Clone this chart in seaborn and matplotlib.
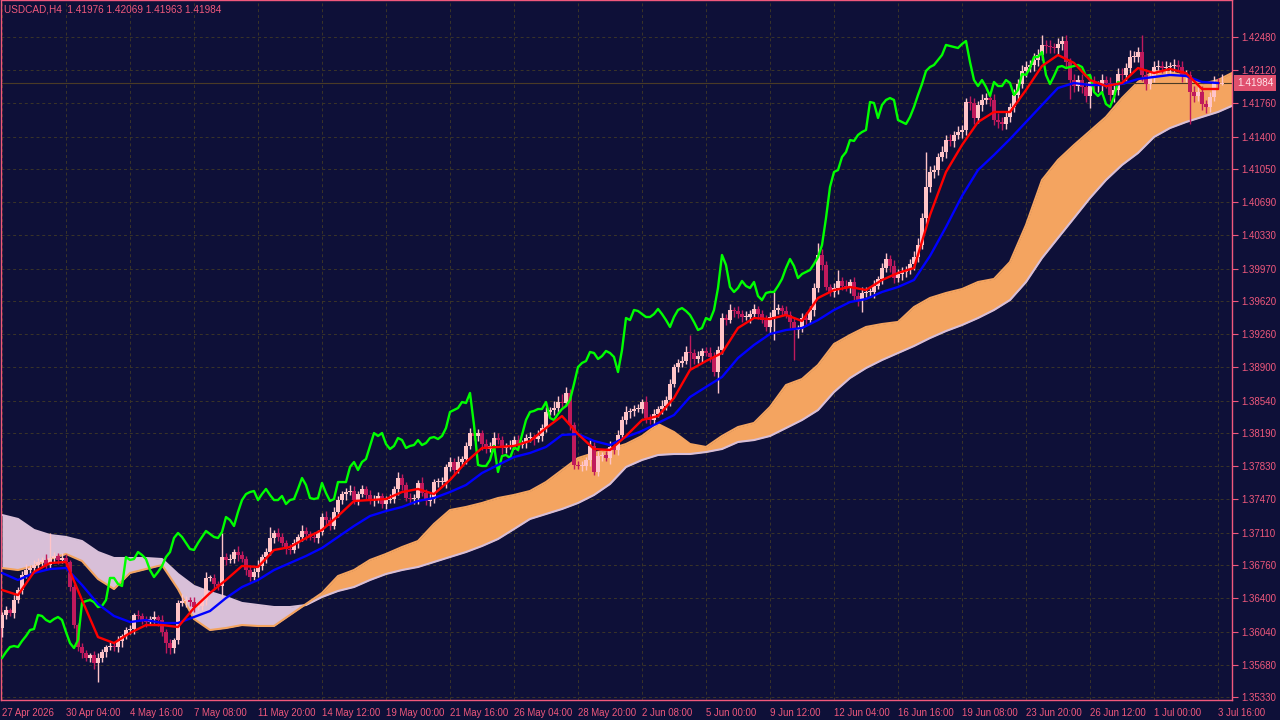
import numpy as np
import matplotlib
matplotlib.use("Agg")
import matplotlib.pyplot as plt
import seaborn as sns

# ---- data (USDCAD, H4) ----
first_open = 1.36078

# close of every H4 bar, left to right
close_px = [
    1.36219, 1.36273, 1.36240, 1.36381, 1.36490, 1.36652, 1.36706, 1.36728, 1.36760, 1.36793, 1.36815, 1.36760,
    1.36836, 1.36858, 1.36815, 1.36836, 1.36793, 1.36522, 1.36110, 1.35872, 1.35807, 1.35753, 1.35785, 1.35699,
    1.35753, 1.35818, 1.35872, 1.35883, 1.35872, 1.35937, 1.35991, 1.36056, 1.36067, 1.36219, 1.36208, 1.36165,
    1.36143, 1.36175, 1.36197, 1.36165, 1.36035, 1.35915, 1.35861, 1.35948, 1.36349, 1.36370, 1.36381, 1.36360,
    1.36305, 1.36316, 1.36381, 1.36620, 1.36620, 1.36555, 1.36533, 1.36847, 1.36815, 1.36825, 1.36901, 1.36869,
    1.36825, 1.36706, 1.36630, 1.36685, 1.36750, 1.36847, 1.36901, 1.37053, 1.37107, 1.37064, 1.36999, 1.36934,
    1.36923, 1.36999, 1.37064, 1.37129, 1.37096, 1.37064, 1.37053, 1.37118, 1.37280, 1.37248, 1.37183, 1.37335,
    1.37464, 1.37529, 1.37551, 1.37562, 1.37464, 1.37529, 1.37584, 1.37519, 1.37464, 1.37464, 1.37508, 1.37421,
    1.37464, 1.37475, 1.37584, 1.37703, 1.37627, 1.37486, 1.37475, 1.37486, 1.37649, 1.37540, 1.37454, 1.37475,
    1.37659, 1.37659, 1.37659, 1.37822, 1.37876, 1.37789, 1.37876, 1.37909, 1.38050, 1.38190, 1.38158, 1.38190,
    1.38071, 1.38017, 1.38050, 1.38136, 1.38114, 1.38028, 1.38050, 1.38060, 1.38114, 1.38060, 1.38082, 1.38136,
    1.38147, 1.38125, 1.38158, 1.38244, 1.38418, 1.38439, 1.38461, 1.38526, 1.38515, 1.38624, 1.38277, 1.37844,
    1.37833, 1.37833, 1.37898, 1.38050, 1.37768, 1.37941, 1.37952, 1.37919, 1.38039, 1.38006, 1.38169, 1.38331,
    1.38418, 1.38429, 1.38450, 1.38450, 1.38526, 1.38353, 1.38331, 1.38396, 1.38450, 1.38483, 1.38548, 1.38721,
    1.38905, 1.38949, 1.38970, 1.39068, 1.39057, 1.38992, 1.39024, 1.39079, 1.39057, 1.39014, 1.38851, 1.39089,
    1.39436, 1.39414, 1.39523, 1.39512, 1.39479, 1.39447, 1.39447, 1.39479, 1.39534, 1.39479, 1.39414, 1.39339,
    1.39447, 1.39523, 1.39544, 1.39512, 1.39469, 1.39393, 1.39306, 1.39328, 1.39436, 1.39414, 1.39523, 1.39761,
    1.40119, 1.40010, 1.39772, 1.39718, 1.39761, 1.39837, 1.39783, 1.39761, 1.39826, 1.39674, 1.39631, 1.39707,
    1.39718, 1.39718, 1.39783, 1.39859, 1.39978, 1.40075, 1.39999, 1.39869, 1.39913, 1.39934, 1.39956, 1.40021,
    1.40097, 1.40227, 1.40519, 1.40855, 1.41018, 1.41039, 1.41180, 1.41234, 1.41364, 1.41354, 1.41419, 1.41451,
    1.41473, 1.41776, 1.41765, 1.41603, 1.41744, 1.41798, 1.41819, 1.41798, 1.41581, 1.41559, 1.41538, 1.41614,
    1.41722, 1.41852, 1.41971, 1.42112, 1.42155, 1.42177, 1.42231, 1.42285, 1.42394, 1.42383, 1.42372, 1.42361,
    1.42404, 1.42437, 1.42209, 1.42014, 1.41949, 1.42014, 1.41939, 1.41841, 1.41993, 1.41949, 1.41949, 1.42014,
    1.41982, 1.41852, 1.41906, 1.42079, 1.42069, 1.42144, 1.42264, 1.42264, 1.42318, 1.42069, 1.41971, 1.42058,
    1.42155, 1.42166, 1.42144, 1.42155, 1.42166, 1.42177, 1.42155, 1.42058, 1.42069, 1.41884, 1.41841, 1.41884,
    1.41754, 1.41722, 1.41830, 1.41993, 1.41976, 1.41984,
]

# wick lengths above / below the body, in pips
wick_up = [
    3, 4, 2, 5, 3, 4, 6, 3, 5, 4, 3, 6, 27, 4, 3, 5, 4, 2,
    3, 2, 4, 3, 2, 4, 5, 3, 2, 4, 3, 5, 2, 3, 4, 2, 5, 3,
    4, 3, 6, 2, 5, 3, 4, 2, 3, 8, 4, 3, 5, 2, 4, 6, 3, 4,
    3, 26, 4, 5, 3, 6, 4, 3, 5, 4, 6, 3, 4, 12, 3, 5, 4, 3,
    5, 4, 3, 6, 4, 3, 5, 2, 4, 6, 3, 5, 4, 3, 4, 6, 5, 3,
    4, 3, 5, 6, 4, 3, 4, 5, 3, 6, 4, 3, 5, 4, 3, 6, 4, 5,
    3, 4, 6, 3, 5, 4, 6, 3, 4, 5, 7, 4, 3, 5, 4, 6, 5, 4,
    3, 5, 4, 6, 3, 4, 5, 3, 6, 4, 5, 3, 8, 7, 9, 6, 4, 3,
    4, 5, 3, 6, 4, 5, 3, 4, 6, 3, 5, 4, 6, 3, 4, 5, 3, 6,
    4, 5, 3, 6, 4, 5, 3, 4, 5, 6, 18, 4, 5, 3, 4, 6, 5, 4,
    5, 4, 6, 3, 5, 4, 6, 4, 5, 3, 4, 6, 5, 19, 4, 3, 5, 4,
    4, 3, 5, 6, 4, 5, 13, 6, 4, 3, 5, 12, 4, 6, 3, 5, 4, 6,
    5, 4, 6, 3, 5, 6, 4, 7, 5, 6, 4, 5, 6, 8, 5, 38, 6, 5,
    4, 6, 5, 7, 4, 6, 5, 4, 6, 5, 4, 6, 5, 7, 6, 8, 5, 6,
    4, 6, 5, 7, 6, 5, 8, 6, 11, 5, 6, 4, 7, 5, 6, 4, 7, 5,
    6, 5, 8, 6, 5, 7, 4, 6, 5, 7, 6, 5, 8, 6, 5, 18, 6, 5,
    7, 6, 5, 6, 4, 7, 5, 6, 5, 4, 6, 5, 7, 4, 5, 6, 4, 9,
]
wick_dn = [
    10, 4, 3, 5, 3, 4, 3, 5, 4, 3, 5, 4, 3, 5, 4, 3, 5, 4,
    3, 4, 5, 3, 4, 7, 21, 4, 5, 3, 4, 5, 6, 3, 4, 5, 3, 4,
    5, 3, 4, 6, 4, 11, 7, 5, 4, 3, 6, 4, 5, 3, 4, 5, 3, 6,
    4, 12, 5, 3, 4, 6, 3, 5, 4, 3, 5, 4, 6, 3, 5, 4, 3, 5,
    4, 3, 5, 4, 6, 3, 4, 5, 3, 6, 4, 3, 5, 4, 6, 3, 4, 5,
    3, 5, 4, 6, 3, 4, 5, 3, 4, 6, 5, 3, 4, 5, 6, 3, 4, 5,
    4, 5, 3, 6, 4, 5, 3, 4, 5, 3, 4, 5, 6, 4, 3, 5, 4, 6,
    5, 3, 4, 6, 3, 5, 4, 6, 3, 5, 4, 3, 5, 4, 6, 3, 5, 4,
    3, 5, 4, 6, 3, 4, 5, 3, 6, 4, 5, 3, 4, 6, 5, 3, 4, 5,
    4, 6, 3, 5, 4, 6, 3, 5, 4, 3, 17, 5, 4, 6, 3, 5, 4, 23,
    4, 5, 3, 6, 4, 5, 3, 6, 4, 5, 3, 4, 6, 25, 4, 5, 3, 6,
    33, 9, 4, 5, 3, 6, 4, 5, 3, 4, 5, 6, 4, 3, 5, 4, 6, 13,
    4, 5, 6, 3, 5, 4, 6, 5, 4, 6, 5, 4, 6, 5, 4, 6, 5, 7,
    5, 4, 6, 5, 7, 4, 6, 5, 8, 6, 5, 7, 4, 6, 5, 7, 6, 5,
    6, 5, 7, 4, 6, 5, 7, 6, 5, 8, 6, 5, 7, 6, 5, 21, 6, 5,
    7, 6, 13, 5, 6, 7, 5, 6, 8, 5, 6, 7, 5, 6, 5, 7, 6, 5,
    6, 7, 5, 6, 8, 6, 5, 7, 6, 35, 6, 5, 7, 6, 5, 4, 6, 2,
]

# Ichimoku lines, read every 4th bar
tenkan = [
    1.36490, 1.36435, 1.36685, 1.36782, 1.36793, 1.36381, 1.35980, 1.35915, 1.36024, 1.36110,
    1.36110, 1.36089, 1.36295, 1.36457, 1.36598, 1.36750, 1.36739, 1.36923, 1.36955, 1.37053,
    1.37140, 1.37291, 1.37454, 1.37464, 1.37475, 1.37551, 1.37584, 1.37529, 1.37681, 1.37876,
    1.38028, 1.38039, 1.38050, 1.38104, 1.38244, 1.38374, 1.38179, 1.38017, 1.38006, 1.38158,
    1.38331, 1.38374, 1.38569, 1.38873, 1.38970, 1.39057, 1.39328, 1.39436, 1.39425, 1.39469,
    1.39404, 1.39653, 1.39739, 1.39772, 1.39739, 1.39848, 1.39924, 1.39978, 1.40552, 1.41018,
    1.41310, 1.41559, 1.41668, 1.41668, 1.41906, 1.42166, 1.42285, 1.42199, 1.42014, 1.41949,
    1.41982, 1.42144, 1.42090, 1.42134, 1.42090, 1.41917, 1.41917,
]
kijun = [
    1.36674, 1.36598, 1.36674, 1.36717, 1.36728, 1.36544, 1.36338, 1.36208, 1.36143, 1.36165,
    1.36132, 1.36132, 1.36197, 1.36262, 1.36403, 1.36522, 1.36598, 1.36706, 1.36782, 1.36858,
    1.36945, 1.37064, 1.37183, 1.37291, 1.37345, 1.37389, 1.37454, 1.37486, 1.37551, 1.37627,
    1.37757, 1.37844, 1.37930, 1.37974, 1.38039, 1.38169, 1.38179, 1.38104, 1.38060, 1.38147,
    1.38212, 1.38299, 1.38385, 1.38580, 1.38689, 1.38797, 1.39003, 1.39144, 1.39263, 1.39306,
    1.39328, 1.39414, 1.39523, 1.39609, 1.39642, 1.39718, 1.39772, 1.39848, 1.40108, 1.40422,
    1.40758, 1.41039, 1.41202, 1.41375, 1.41559, 1.41744, 1.41928, 1.41982, 1.41960, 1.41960,
    1.41971, 1.42025, 1.42047, 1.42069, 1.42058, 1.41993, 1.41982,
]
span_a = [
    1.36728, 1.36706, 1.36750, 1.36825, 1.36880, 1.36804, 1.36609, 1.36500, 1.36674, 1.36717,
    1.36760, 1.36500, 1.36175, 1.36056, 1.36078, 1.36110, 1.36100, 1.36100, 1.36219, 1.36338,
    1.36457, 1.36641, 1.36706, 1.36815, 1.36880, 1.36955, 1.37020, 1.37205, 1.37356, 1.37389,
    1.37432, 1.37486, 1.37519, 1.37562, 1.37659, 1.37789, 1.37919, 1.37974, 1.38017, 1.38071,
    1.38158, 1.38288, 1.38201, 1.38071, 1.38039, 1.38158, 1.38255, 1.38299, 1.38472, 1.38710,
    1.38775, 1.38927, 1.39154, 1.39252, 1.39339, 1.39371, 1.39393, 1.39555, 1.39653, 1.39707,
    1.39750, 1.39826, 1.39859, 1.40043, 1.40444, 1.40931, 1.41148, 1.41310, 1.41462, 1.41614,
    1.41819, 1.41993, 1.42112, 1.42101, 1.42058, 1.41971, 1.42014, 1.42101,
]
span_b = [
    1.37302, 1.37259, 1.37140, 1.37085, 1.37064, 1.37020, 1.36901, 1.36836, 1.36836, 1.36836,
    1.36825, 1.36663, 1.36533, 1.36468, 1.36414, 1.36349, 1.36327, 1.36305, 1.36305, 1.36327,
    1.36414, 1.36479, 1.36522, 1.36598, 1.36663, 1.36706, 1.36739, 1.36793, 1.36847, 1.36901,
    1.36966, 1.37042, 1.37150, 1.37259, 1.37313, 1.37367, 1.37432, 1.37519, 1.37638, 1.37822,
    1.37898, 1.37952, 1.37963, 1.37963, 1.37984, 1.38017, 1.38093, 1.38114, 1.38158, 1.38244,
    1.38331, 1.38439, 1.38634, 1.38786, 1.38894, 1.38981, 1.39057, 1.39133, 1.39219, 1.39295,
    1.39360, 1.39436, 1.39523, 1.39631, 1.39826, 1.40086, 1.40303, 1.40519, 1.40736, 1.40931,
    1.41094, 1.41224, 1.41397, 1.41494, 1.41559, 1.41614, 1.41668, 1.41744,
]

chikou_shift = 24

price_ticks = [1.42480, 1.42120, 1.41760, 1.41400, 1.41050, 1.40690, 1.40330, 1.39970,
               1.39620, 1.39260, 1.38900, 1.38540, 1.38190, 1.37830, 1.37470, 1.37110,
               1.36760, 1.36400, 1.36040, 1.35680, 1.35330]
time_labels = ["27 Apr 2026", "30 Apr 04:00", "4 May 16:00", "7 May 08:00", "11 May 20:00",
               "14 May 12:00", "19 May 00:00", "21 May 16:00", "26 May 04:00", "28 May 20:00",
               "2 Jun 08:00", "5 Jun 00:00", "9 Jun 12:00", "12 Jun 04:00", "16 Jun 16:00",
               "19 Jun 08:00", "23 Jun 20:00", "26 Jun 12:00", "1 Jul 00:00", "3 Jul 16:00"]
title = "USDCAD,H4  1.41976 1.42069 1.41963 1.41984"

# ---- colours ----
BG = "#0e1038"
TXT = "#f0587c"
GRID = "#3b3528"
BULL = "#ffc4c8"
BEAR = "#c01a5c"

sns.set_theme(style="dark", rc={"axes.facecolor": BG, "figure.facecolor": BG})
plt.rcParams["font.family"] = ["Liberation Sans", "DejaVu Sans"]

fig = plt.figure(figsize=(12.8, 7.2), dpi=100)
ax = fig.add_axes([1 / 1280, 20 / 720, 1231 / 1280, 700 / 720])
ax.set_facecolor(BG)

close = np.array(close_px)
n = len(close)
bars = np.arange(n)
opn = np.r_[first_open, close[:-1]]
high = np.maximum(opn, close) + np.array(wick_up) * 1e-4
low = np.minimum(opn, close) - np.array(wick_dn) * 1e-4

# cloud
cx = np.arange(len(span_a)) * 4
sa = np.array(span_a)
sb = np.array(span_b)
ax.fill_between(cx, sa, sb, where=sa >= sb, interpolate=True, color="#f4a460", lw=0, zorder=1)
ax.fill_between(cx, sa, sb, where=sa < sb, interpolate=True, color="#d8bfd8", lw=0, zorder=1)
ax.plot(cx, sb, color="#d8bfd8", lw=1.5, zorder=1.5)
ax.plot(cx, sa, color="#f4a460", lw=1.5, zorder=1.6)

# bid line
ax.axhline(close[-1], color="#4a3b26", lw=0.8, zorder=1.8)

# candles
cols = np.where(close >= opn, BULL, BEAR)
ax.vlines(bars, low, high, colors=cols, lw=1.0, zorder=3)
body = np.maximum(np.abs(close - opn), 0.0001)
ax.bar(bars, body, bottom=np.minimum(opn, close), width=0.78, color=cols, lw=0, zorder=3)

# indicator lines
lx = np.arange(len(tenkan)) * 4
sns.lineplot(x=bars[:n - chikou_shift], y=close[chikou_shift:], ax=ax, color="#00ff00",
             lw=1.7, estimator=None, sort=False, zorder=4)
sns.lineplot(x=lx, y=kijun, ax=ax, color="#0000ff", lw=1.7, estimator=None, sort=False, zorder=4.5)
sns.lineplot(x=lx, y=tenkan, ax=ax, color="#ff0000", lw=1.7, estimator=None, sort=False, zorder=5)

# axes
ax.set_xlim(-0.25, 307.5)
ax.set_ylim(1.35298, 1.42881)
ax.yaxis.tick_right()
ax.set_yticks(price_ticks)
ax.set_yticklabels([f"{v:.5f}" for v in price_ticks])
ax.set_xticks(np.arange(len(time_labels)) * 16)
ax.set_xticklabels(time_labels, ha="left")
ax.tick_params(axis="y", direction="out", length=4, width=0.8, colors=TXT, labelsize=7.0, pad=3)
ax.tick_params(axis="x", direction="out", length=4, width=0.8, colors=TXT, labelsize=6.9, pad=2)
ax.grid(True, color=GRID, linestyle=(0, (3, 3)), linewidth=0.7)
ax.set_axisbelow(True)
for s in ax.spines.values():
    s.set_color(TXT)
    s.set_linewidth(1.0)
ax.set_xlabel("")
ax.set_ylabel("")

# last price tag
ax.text(1.004, close[-1], f"{close[-1]:.5f}", transform=ax.get_yaxis_transform(),
        ha="left", va="center", fontsize=7.2, color="#ffe4ea",
        bbox=dict(boxstyle="square,pad=0.3", fc="#e0506e", ec="none"), clip_on=False)

fig.text(4 / 1280, 1 - 10 / 720, title, color=TXT, fontsize=7.2, va="center", ha="left")

fig.savefig("out.png", dpi=100, facecolor=BG)
